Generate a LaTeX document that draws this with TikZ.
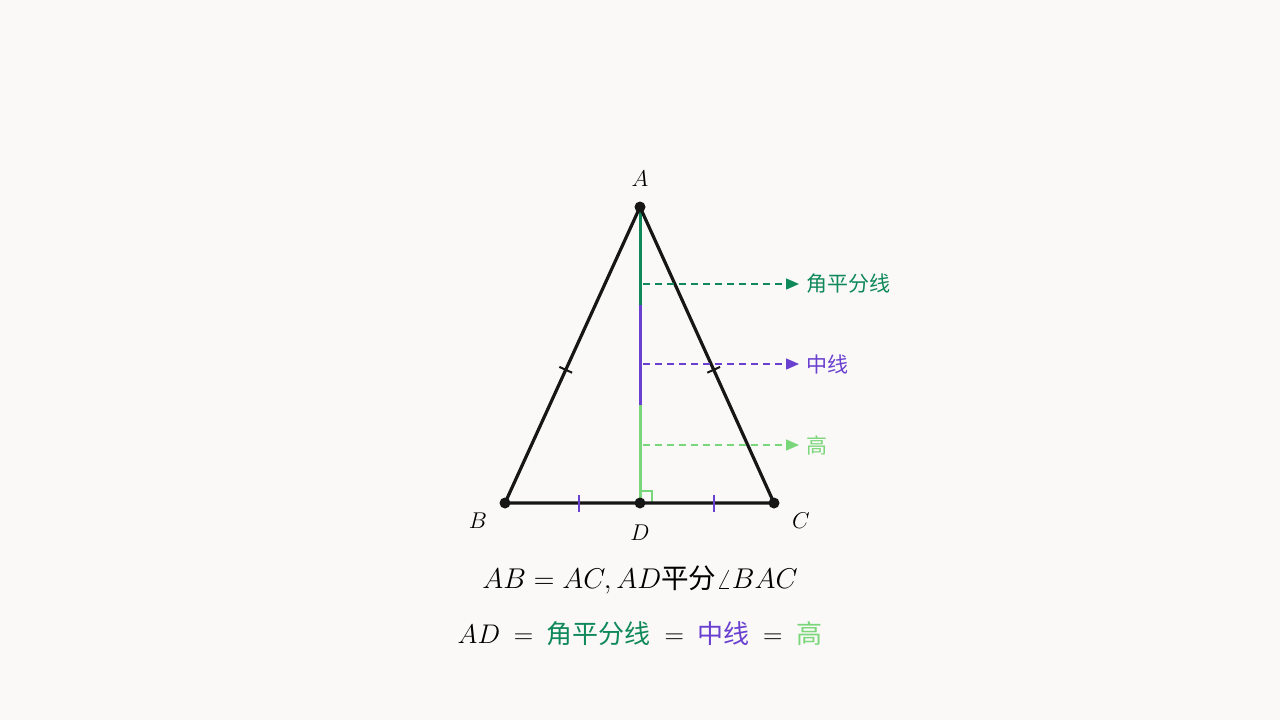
\documentclass[tikz,border=0pt]{standalone}
\usepackage{fontspec}
\newfontfamily\cjk{Noto Sans CJK SC}
\usetikzlibrary{arrows.meta, positioning, calc}
\definecolor{paper}{RGB}{250,249,247}
\definecolor{ink}{RGB}{22,22,22}
\definecolor{bisectcol}{RGB}{16,137,90}
\definecolor{mediancol}{RGB}{106,64,208}
\definecolor{altcol}{RGB}{122,214,122}
\newcommand{\eqgap}{\hspace{10.5pt}}

\begin{document}
\begin{tikzpicture}[x=1pt, y=-1pt,
    side/.style={ink, line width=3.2pt, line join=round},
    part/.style={line width=3pt},
    dot/.style={fill=ink},
    hashmark/.style={line width=2pt},
    pointer/.style={dashed, dash pattern=on 7pt off 5pt, line width=1.5pt, -{Triangle[length=13pt, width=11pt]}},
    vlabel/.style={font=\fontsize{20}{24}\selectfont, scale=1.1},
    sidetext/.style={anchor=west, inner sep=0pt, font=\cjk\fontsize{21}{24}\selectfont},
    bigtext/.style={font=\fontsize{20}{24}\selectfont, scale=1.3}]
    \fill[paper] (0,0) rectangle (1280,720);
    % vertices
    \coordinate (A) at (640,207);
    \coordinate (B) at (505,503);
    \coordinate (C) at (774,503);
    \coordinate (D) at (640,503);
    \coordinate (P1) at (640,305);
    \coordinate (P2) at (640,405);
    % the line AD in three colours
    \draw[part, bisectcol] (A) -- (P1);
    \draw[part, mediancol] (P1) -- (P2);
    \draw[part, altcol] (P2) -- (D);
    \draw[altcol, line width=1.5pt] ([yshift=12pt]D) -- ([xshift=12pt, yshift=12pt]D) -- ([xshift=12pt]D);
    \draw[side] (B) -- (A) -- (C) -- cycle;
    % equal sides
    \coordinate (tAB) at ($(A)!0.55!(B)$);
    \coordinate (tAC) at ($(A)!0.55!(C)$);
    \coordinate (tBD) at (579,503);
    \coordinate (tDC) at (714,503);
    \draw[hashmark, ink] ($(tAB)!7pt!90:(A)$) -- ($(tAB)!7pt!-90:(A)$);
    \draw[hashmark, ink] ($(tAC)!7pt!90:(A)$) -- ($(tAC)!7pt!-90:(A)$);
    \draw[hashmark, mediancol] ($(tBD)!8.5pt!90:(B)$) -- ($(tBD)!8.5pt!-90:(B)$);
    \draw[hashmark, mediancol] ($(tDC)!8.5pt!90:(C)$) -- ($(tDC)!8.5pt!-90:(C)$);
    \foreach \p in {A,B,C,D} \fill[dot] (\p) circle (5.5pt);
    \node[vlabel] (lA) at (640,179) {$A$};
    \node[vlabel] (lB) at (478,521) {$B$};
    \node[vlabel] (lC) at (801,521) {$C$};
    \node[vlabel] (lD) at (640,533) {$D$};
    % pointers
    \coordinate (q1) at (643,284);
    \coordinate (q2) at (643,364);
    \coordinate (q3) at (643,445);
    \node[sidetext, bisectcol] (nbis) at (806,284) {角平分线};
    \node[sidetext, mediancol] (nmed) at (806,364) {中线};
    \node[sidetext, altcol] (nalt) at (806,445) {高};
    \draw[pointer, bisectcol] (q1) -- ([xshift=-7pt]nbis.west);
    \draw[pointer, mediancol] (q2) -- ([xshift=-7pt]nmed.west);
    \draw[pointer, altcol] (q3) -- ([xshift=-7pt]nalt.west);
    % statements
    \node[bigtext, scale=1.06] (given) at (640,580) {$AB=AC,AD${\cjk 平分}$\angle BAC$};
    \node[bigtext] (result) at (640,634) {$AD$\eqgap$=$\eqgap{\cjk\color{bisectcol}角平分线}\eqgap$=$\eqgap{\cjk\color{mediancol}中线}\eqgap$=$\eqgap{\cjk\color{altcol}高}};
\end{tikzpicture}
\end{document}
